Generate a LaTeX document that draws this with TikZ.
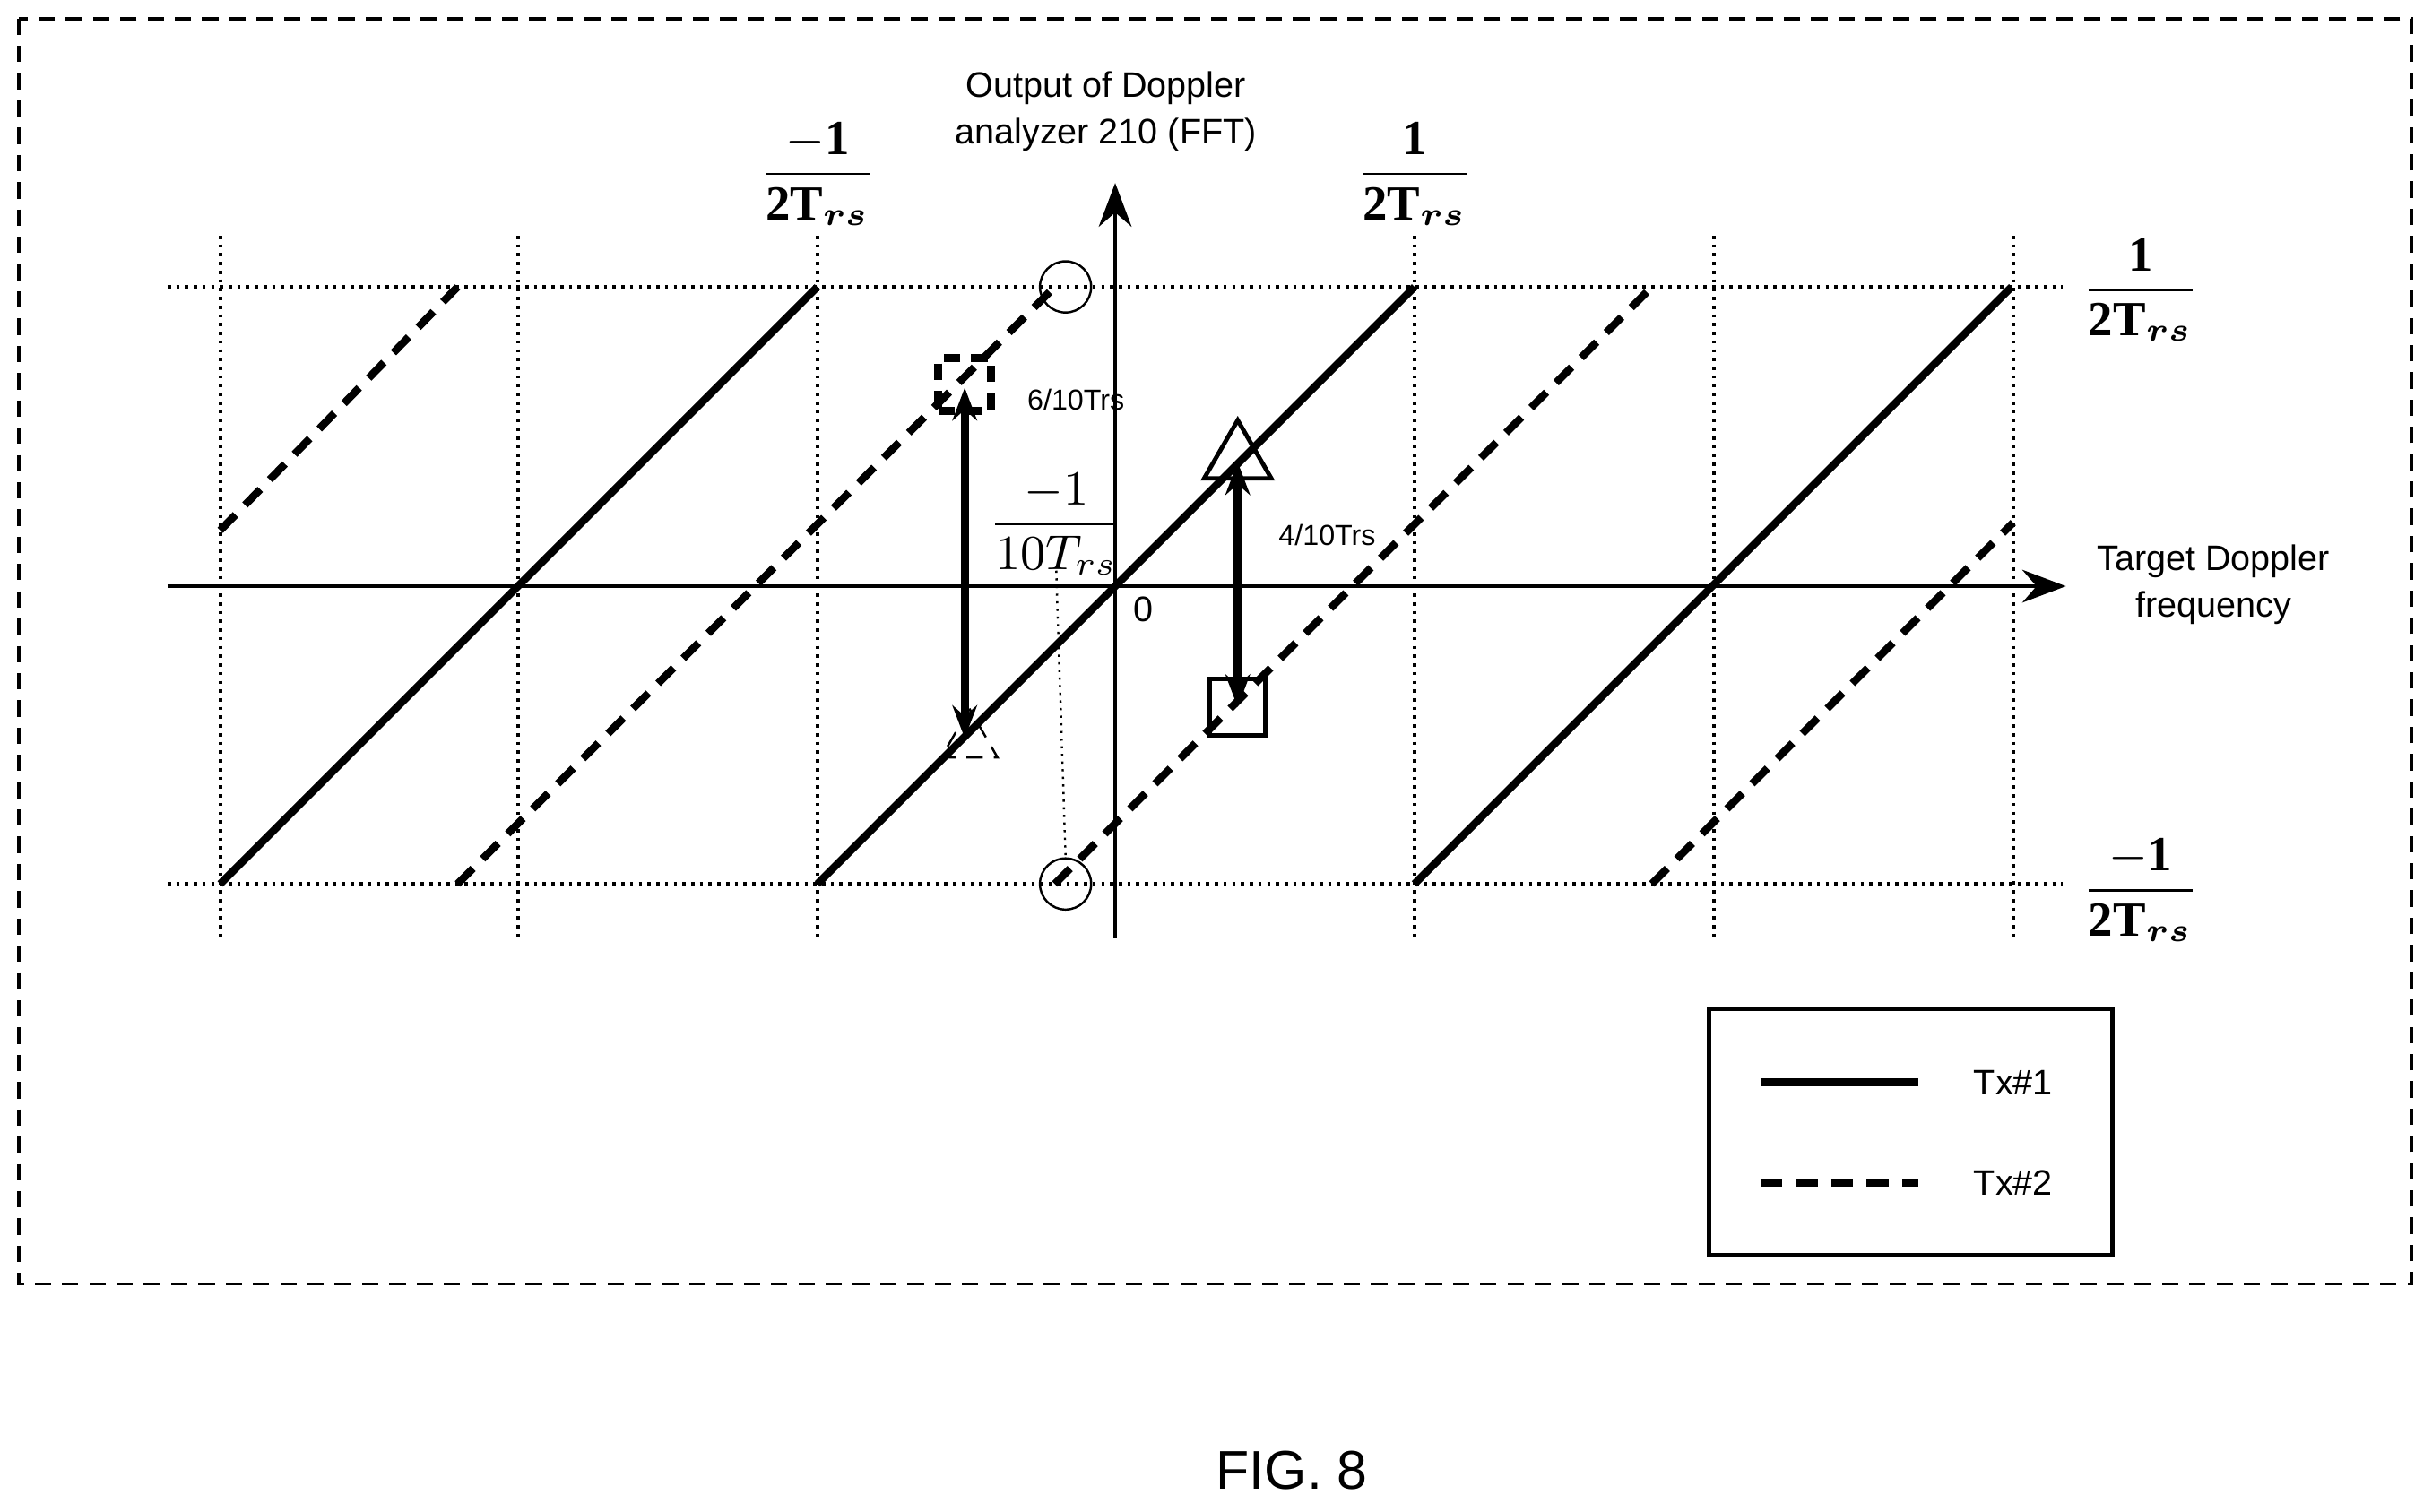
\documentclass[tikz,border=0pt]{standalone}
\usepackage{amsmath,amssymb}
\usepackage{fontspec}
\setmainfont{Liberation Serif}
\setsansfont{Liberation Sans}
\usetikzlibrary{arrows.meta,positioning,shapes.geometric}
\tikzset{
  grid/.style={densely dotted,semithick},
  txone/.style={line width=1.4pt},
  txtwo/.style={line width=1.4pt,dash pattern=on 4pt off 2.5pt},
  lbl/.style={font=\sffamily\fontsize{6.5}{8.5}\selectfont,align=center},
  small/.style={font=\sffamily\fontsize{5.3}{6}\selectfont},
  frac/.style={font=\fontsize{9}{10}\selectfont},
  dbl/.style={line width=1.5pt,{Stealth[length=6pt]}-{Stealth[length=6pt]}}
}
\newcommand{\bfr}[1]{$\displaystyle\frac{\mathbf{#1}}{\mathbf{2T}_{\boldsymbol{rs}}}$}
\begin{document}
\begin{tikzpicture}[x=0.01cm,y=-0.01cm]
  \useasboundingbox (0,0) rectangle (1568,975);
  % frame
  \draw[densely dashed,semithick] (12,12) rectangle (1555,828);
  % grid
  \foreach \gx in {142,334,527,912,1105,1298}
    \draw[grid] (\gx,152) -- (\gx,605);
  \draw[grid] (108,185) -- (1330,185);
  \draw[grid] (108,570) -- (1330,570);
  % axes
  \coordinate (xs) at (108,378);
  \coordinate (xe) at (1332,378);
  \coordinate (ys) at (719,605);
  \coordinate (ye) at (719,118);
  \draw[thick,-{Stealth[length=8pt]}] (xs) -- (xe);
  \draw[thick,-{Stealth[length=8pt]}] (ys) -- (ye);
  % Tx#1
  \foreach \sx in {142,527,912}
    \draw[txone] (\sx,570) -- ++(385,-385);
  % Tx#2
  \draw[txtwo] (142,342) -- (295,185);
  \draw[txtwo] (295,570) -- (680,185);
  \draw[txtwo] (680,570) -- (1065,185);
  \draw[txtwo] (1065,570) -- (1298,337);
  % markers
  \node[draw,circle,minimum size=0.33cm,inner sep=0pt] (ctop) at (687,185) {};
  \node[draw,circle,minimum size=0.33cm,inner sep=0pt] (cbot) at (687,570) {};
  \node[draw,densely dashed,line width=1.5pt,minimum size=0.34cm,inner sep=0pt] (sqa) at (622,248) {};
  \node[draw,densely dashed,regular polygon,regular polygon sides=3,minimum size=0.42cm,inner sep=0pt] (tra) at (625,478) {};
  \node[draw,thick,regular polygon,regular polygon sides=3,minimum size=0.5cm,inner sep=0pt] (trb) at (798,296) {};
  \node[draw,thick,minimum size=0.36cm,inner sep=0pt] (sqb) at (798,456) {};
  \draw[dbl] (sqa.center) ++(0,2) -- (622,476);
  \draw[dbl] (798,298) -- (sqb.center);
  \node[small,anchor=west] (ta) at (650,258) {6/10Trs};
  \node[small,anchor=west] (tb) at (812,345) {4/10Trs};
  % -1/10Trs
  \node[font=\fontsize{9}{10}\selectfont] (tenth) at (681,338) {$\displaystyle\frac{-1}{10T_{rs}}$};
  \draw[densely dotted,thin] (681,368) -- (cbot.north);
  \node[lbl] (zero) at (737,393) {0};
  % labels
  \node[lbl] (yl) at (713,72) {Output of Doppler\\analyzer 210 (FFT)};
  \node[lbl] (xl) at (1427,377) {Target Doppler\\frequency};
  \node[frac] (fl) at (527,112) {\bfr{-1}};
  \node[frac] (fr) at (912,112) {\bfr{1}};
  \node[frac] (ft) at (1380,187) {\bfr{1}};
  \node[frac] (fb) at (1380,574) {\bfr{-1}};
  % legend
  \node[draw,thick,minimum width=2.6cm,minimum height=1.59cm] (leg) at (1232,730) {};
  \coordinate (la) at (1135,698);
  \coordinate (lb) at (1135,763);
  \draw[txone] (la) -- ++(102,0);
  \draw[txtwo] (lb) -- ++(102,0);
  \node[lbl] (l1) at (1298,698) {Tx\#1};
  \node[lbl] (l2) at (1298,763) {Tx\#2};
  \node[font=\sffamily\fontsize{10}{12}\selectfont] (fig) at (833,948) {FIG. 8};
\end{tikzpicture}
\end{document}
